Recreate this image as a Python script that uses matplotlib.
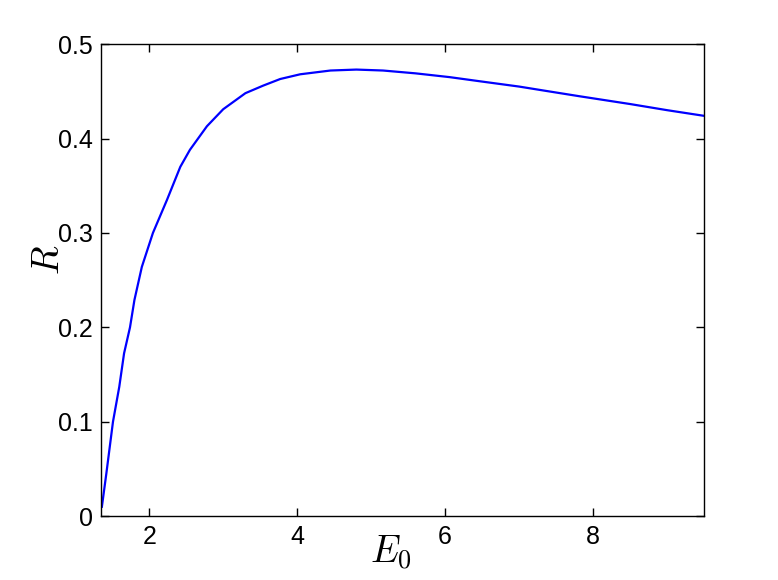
import matplotlib
matplotlib.use("Agg")
import matplotlib.pyplot as plt

E0 = [1.36, 1.42, 1.51, 1.595, 1.66, 1.74, 1.80, 1.90, 2.05, 2.24, 2.42, 2.55,
      2.78, 3.0, 3.3, 3.54, 3.77, 4.04, 4.45, 4.8, 5.16, 5.6, 6.06, 6.47,
      7.0, 7.34, 7.82, 8.5, 9.0, 9.5]
R = [0.01, 0.045, 0.10, 0.137, 0.1725, 0.20, 0.229, 0.264, 0.30, 0.335, 0.370, 0.388,
     0.413, 0.431, 0.448, 0.456, 0.463, 0.468, 0.472, 0.473, 0.472, 0.469, 0.465, 0.4606,
     0.455, 0.4507, 0.4447, 0.4365, 0.430, 0.424]
xticks = [2, 4, 6, 8]
yticks = [0, 0.1, 0.2, 0.3, 0.4, 0.5]
ytick_labels = ["0", "0.1", "0.2", "0.3", "0.4", "0.5"]

plt.rcParams['font.family'] = ['Liberation Sans', 'DejaVu Sans']
plt.rcParams['mathtext.fontset'] = 'cm'

fig = plt.figure(figsize=(7.78, 5.8), dpi=100)
ax = fig.add_axes([0.130, 0.110, 0.775, 0.814])
ax.plot(E0, R, color=(0, 0, 1), linewidth=1.6)
ax.set_xlim(1.35, 9.5)
ax.set_ylim(0, 0.5)
ax.set_xticks(xticks)
ax.set_xticklabels([str(t) for t in xticks])
ax.set_yticks(yticks)
ax.set_yticklabels(ytick_labels)
ax.tick_params(direction='in', top=True, right=True, length=6, width=1,
               labelsize=18, pad=6)
for s in ax.spines.values():
    s.set_linewidth(1)
ax.set_xlabel(r'$E_0$', fontsize=27)
ax.xaxis.set_label_coords(0.480, -0.036)
ax.set_ylabel(r'$R$', fontsize=27)
ax.yaxis.set_label_coords(-0.056, 0.543)
fig.savefig("out.png", dpi=100)
